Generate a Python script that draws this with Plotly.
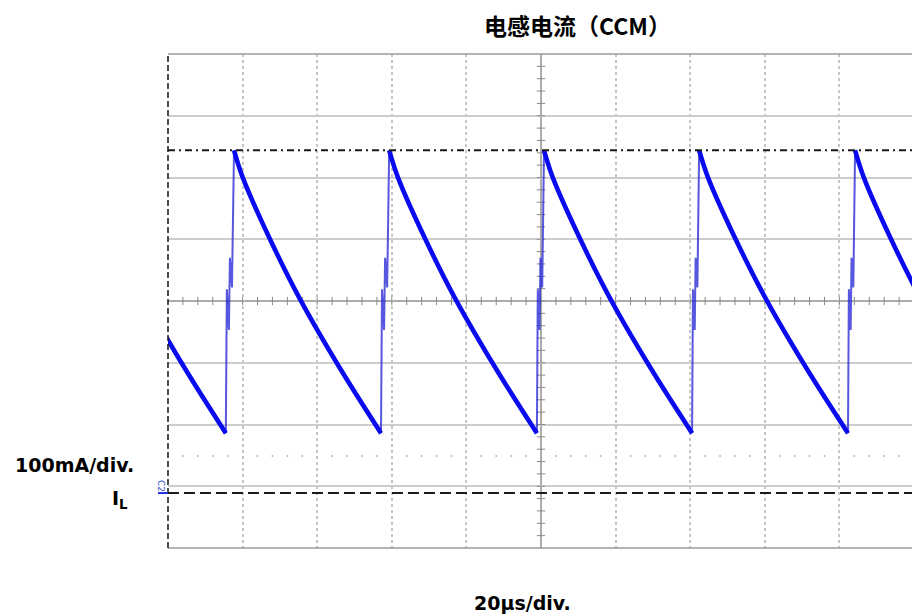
import numpy as np
import plotly.graph_objects as go

# ---- waveform data (time in µs, inductor current in mA) ----
# peak instants of each switching cycle (first and last extend past the screen)
peak_times = [-23.9, 17.7, 59.3, 100.8, 142.4, 184.2]
# valley instants: end of each falling ramp / start of the following rise
valley_times = [15.5, 57.1, 98.9, 140.5, 182.3, 223.6]
# falling ramp shape: fraction of the fall interval -> current
fall_frac = [0.0, 0.061, 0.245, 0.449, 0.721, 1.0]
fall_ma = [555, 510, 411, 314, 202, 97]
# rising edge with switching ringing: fraction of the rise interval -> current
rise_frac = [0.0, 0.125, 0.375, 0.5, 0.75, 0.875, 1.0]
rise_ma = [97, 330, 264, 381, 333, 467, 555]

peak_cursor_ma = 555      # dash-dot cursor level
ground_ma = 0             # channel ground reference
dot_row_ma = 60

# screen geometry: 10 x 8 divisions, 20 µs/div and 100 mA/div
x_range = [0, 199.46]
y_range = [-89, 711]
x_div = [20, 40, 60, 80, 120, 140, 160, 180]
y_div = [11, 111, 211, 411, 511, 611]
x_center, y_center = 100, 311

W, H = 912, 614
L, T, B = 168, 54, 66
PW, PH = W - L, H - T - B


def px(xpix):
    return (xpix - L) / PW


def py(ypix):
    return (H - B - ypix) / PH


# build the traces from the cycle data
fx, fy = [], []
for i in range(len(peak_times)):
    t0, t1 = peak_times[i], valley_times[i]
    for f, v in zip(fall_frac, fall_ma):
        fx.append(t0 + f * (t1 - t0))
        fy.append(v)
    fx.append(None)
    fy.append(None)

rx, ry = [], []
for i in range(len(valley_times) - 1):
    t0, t1 = valley_times[i], peak_times[i + 1]
    for f, v in zip(rise_frac, rise_ma):
        rx.append(t0 + f * (t1 - t0))
        ry.append(v)
    rx.append(None)
    ry.append(None)

fig = go.Figure()

# sub-division dot row
dots_x = [t for t in np.arange(4, 200, 4) if t % 20 != 0]
fig.add_trace(go.Scatter(x=dots_x, y=[dot_row_ma] * len(dots_x), mode="markers",
                         marker=dict(size=2, color="#b4b4b4"), hoverinfo="skip"))

# graticule tick marks on the centre lines
tx = list(np.arange(4, 200, 4))
fig.add_trace(go.Scatter(x=tx, y=[y_center] * len(tx), mode="markers",
                         marker=dict(symbol="line-ns", size=6,
                                     line=dict(width=1, color="#8a8a8a")),
                         hoverinfo="skip"))
ty = list(np.arange(-89 + 20, 711, 20))
fig.add_trace(go.Scatter(x=[x_center] * len(ty), y=ty, mode="markers",
                         marker=dict(symbol="line-ew", size=6,
                                     line=dict(width=1, color="#8a8a8a")),
                         hoverinfo="skip"))

# reference lines
fig.add_shape(type="line", xref="paper", yref="y", x0=0, x1=1,
              y0=peak_cursor_ma, y1=peak_cursor_ma,
              line=dict(color="#1a1a1a", width=2, dash="7px,4px,2px,4px"))
fig.add_shape(type="line", xref="paper", yref="y", x0=0, x1=1,
              y0=ground_ma, y1=ground_ma,
              line=dict(color="#1a1a1a", width=2, dash="11px,5px"))

# centre graticule lines and frame
fig.add_shape(type="line", xref="x", yref="paper", x0=x_center, x1=x_center,
              y0=0, y1=1, line=dict(color="#8f8f8f", width=1.5), layer="below")
fig.add_shape(type="line", xref="paper", yref="y", x0=0, x1=1,
              y0=y_center, y1=y_center, line=dict(color="#8f8f8f", width=1.5),
              layer="below")
fig.add_shape(type="line", xref="paper", yref="paper", x0=0, x1=1, y0=1, y1=1,
              line=dict(color="#9a9a9a", width=1.5))
fig.add_shape(type="line", xref="paper", yref="paper", x0=0, x1=1, y0=0, y1=0,
              line=dict(color="#9a9a9a", width=1.5))
fig.add_shape(type="line", xref="paper", yref="paper", x0=0, x1=0, y0=0, y1=1,
              line=dict(color="#222222", width=1.6, dash="6px,3px"))

# channel ground marker
fig.add_shape(type="line", xref="paper", yref="y", x0=px(158), x1=0,
              y0=ground_ma, y1=ground_ma, line=dict(color="#2030e0", width=2))

# inductor current: thin ringing rise and thick falling ramp
fig.add_trace(go.Scatter(x=rx, y=ry, mode="lines",
                         line=dict(color="rgba(45,45,215,0.8)", width=2),
                         hoverinfo="skip"))
fig.add_trace(go.Scatter(x=fx, y=fy, mode="lines",
                         line=dict(color="#0a0aee", width=4.6, shape="spline",
                                   smoothing=1.0),
                         hoverinfo="skip"))

# trigger position marker
fig.add_trace(go.Scatter(x=[x_center], y=[-96], mode="markers", cliponaxis=False,
                         marker=dict(symbol="triangle-up", size=8, color="#1020e0"),
                         hoverinfo="skip"))


def label(text, xpix, ypix, size, family="DejaVu Sans", xanchor="center",
          color="#000", angle=0):
    fig.add_annotation(x=px(xpix), y=py(ypix), xref="paper", yref="paper",
                       xanchor=xanchor, yanchor="middle", text=text,
                       textangle=angle, showarrow=False,
                       font=dict(family=family, size=size, color=color))


label("<b>电感电流（CCM）</b>", 577, 25, 23, family="Noto Sans CJK SC")
label("<b>100mA/div.</b>", 13, 465, 19, xanchor="left")
label("<b>I<sub>L</sub></b>", 110, 499, 19, xanchor="left")
label("<b>20µs/div.</b>", 522, 603, 19)
label("C2", 161, 486, 9, color="#4050d8", angle=90)

fig.update_layout(
    width=W, height=H,
    margin=dict(l=L, r=0, t=T, b=B, pad=0),
    paper_bgcolor="white", plot_bgcolor="white",
    showlegend=False,
    xaxis=dict(range=x_range, tickvals=x_div, showticklabels=False, ticks="",
               showgrid=True, gridcolor="#c6c6c6", gridwidth=1.5, griddash="dot",
               zeroline=False, showline=False, fixedrange=True),
    yaxis=dict(range=y_range, tickvals=y_div, showticklabels=False, ticks="",
               showgrid=True, gridcolor="#cdcdcd", gridwidth=1.5,
               zeroline=False, showline=False, fixedrange=True),
)

fig.write_html("out.html")
